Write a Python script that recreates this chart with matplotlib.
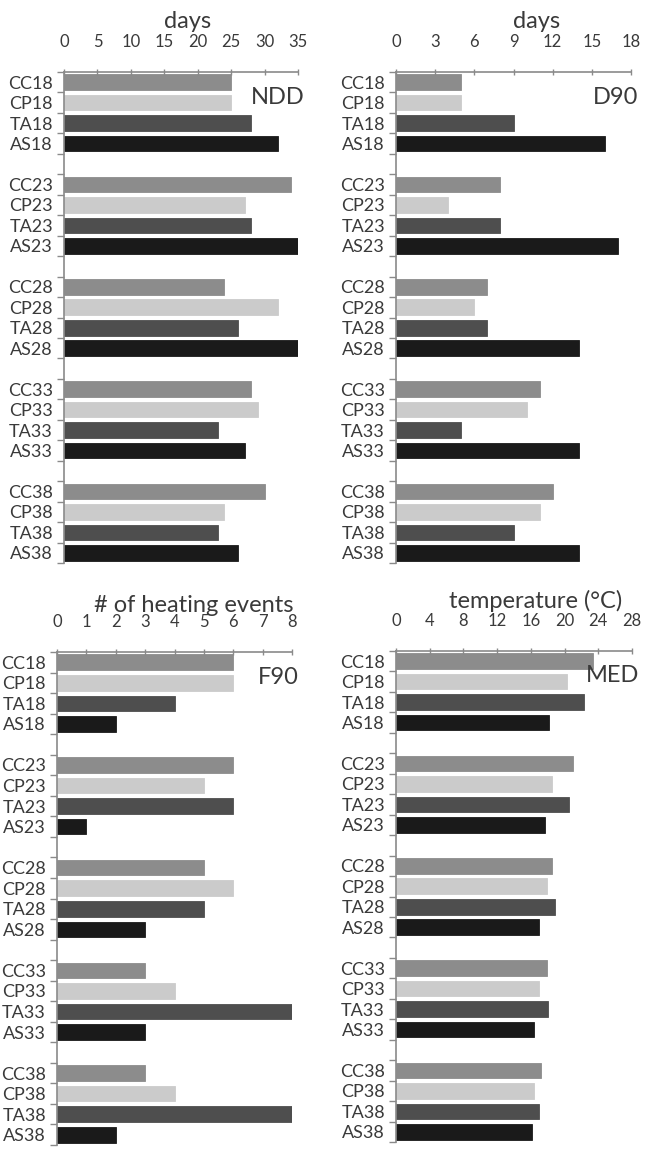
import matplotlib
matplotlib.use("Agg")
import matplotlib.pyplot as plt

plt.rcParams['font.family'] = ['Lato', 'DejaVu Sans']

# groups of bars (top to bottom), each with 4 treatments
groups = ["18", "23", "28", "33", "38"]
treatments = ["CC", "CP", "TA", "AS"]
treat_colors = ["#8c8c8c", "#cbcbcb", "#4e4e4e", "#1a1a1a"]

# values per treatment, one entry per group
ndd = {"CC": [25, 34, 24, 28, 30],
       "CP": [25, 27, 32, 29, 24],
       "TA": [28, 28, 26, 23, 23],
       "AS": [32, 35, 35, 27, 26]}
d90 = {"CC": [5, 8, 7, 11, 12],
       "CP": [5, 4, 6, 10, 11],
       "TA": [9, 8, 7, 5, 9],
       "AS": [16, 17, 14, 14, 14]}
f90 = {"CC": [6, 6, 5, 3, 3],
       "CP": [6, 5, 6, 4, 4],
       "TA": [4, 6, 5, 8, 8],
       "AS": [2, 1, 3, 3, 2]}
med = {"CC": [23.4, 21.0, 18.5, 17.9, 17.2],
       "CP": [20.3, 18.5, 17.9, 17.0, 16.4],
       "TA": [22.3, 20.5, 18.9, 18.0, 17.0],
       "AS": [18.2, 17.7, 17.0, 16.4, 16.1]}

panels = [
    # data, xmax, xstep, title, tag, rect in px (left, top, right, bottom), title x, title gap px
    (ndd, 35, 5, "days", "NDD", (64, 72, 298, 563), 0.53, 44),
    (d90, 18, 3, "days", "D90", (396, 72, 631, 563), 0.60, 44),
    (f90, 8, 1, "# of heating events", "F90", (57, 652, 292, 1145), 0.58, 40),
    (med, 28, 4, "temperature (°C)", "MED", (396, 651, 632, 1142), 0.59, 43),
]

W, H = 645, 1169
fig = plt.figure(figsize=(W / 100, H / 100), dpi=100)

axis_gray = "#8a8a8a"
text_gray = "#3a3a3a"

for data, xmax, xstep, title, tag, (l, t, r, b), tx, gap in panels:
    ax = fig.add_axes([l / W, 1 - b / H, (r - l) / W, (b - t) / H])
    labels, positions = [], []
    for gi, g in enumerate(groups):
        for ti, tr in enumerate(treatments):
            pos = gi * 5 + ti
            ax.barh(pos, data[tr][gi], height=0.76, color=treat_colors[ti],
                    edgecolor=treat_colors[ti], linewidth=0.6)
            labels.append(tr + g)
            positions.append(pos)

    ax.set_ylim(23.5, -0.5)
    ax.set_xlim(0, xmax)

    # category boundary ticks + centred labels
    ax.set_yticks([i - 0.5 for i in range(25)])
    ax.set_yticklabels([])
    ax.set_yticks(positions, minor=True)
    ax.set_yticklabels(labels, minor=True, fontsize=13, color=text_gray)
    ax.tick_params(axis='y', which='major', direction='out', length=5,
                   color=axis_gray, width=1)
    ax.tick_params(axis='y', which='minor', length=0, pad=8)

    ax.xaxis.tick_top()
    ax.set_xticks(range(0, xmax + 1, xstep))
    ax.tick_params(axis='x', direction='inout', length=5, color=axis_gray,
                   width=1, labelsize=12, labelcolor=text_gray, pad=13)

    for s in ['right', 'bottom']:
        ax.spines[s].set_visible(False)
    for s in ['left', 'top']:
        ax.spines[s].set_color(axis_gray)
        ax.spines[s].set_linewidth(1.2)

    ax.text(tx, 1.0 + gap / (b - t), title, transform=ax.transAxes,
            ha='center', va='baseline', fontsize=17, color=text_gray)
    ax.text(1.03, 1 - 25 / (b - t), tag, transform=ax.transAxes,
            ha='right', va='center', fontsize=17, color=text_gray)

fig.savefig("out.png", dpi=100)
